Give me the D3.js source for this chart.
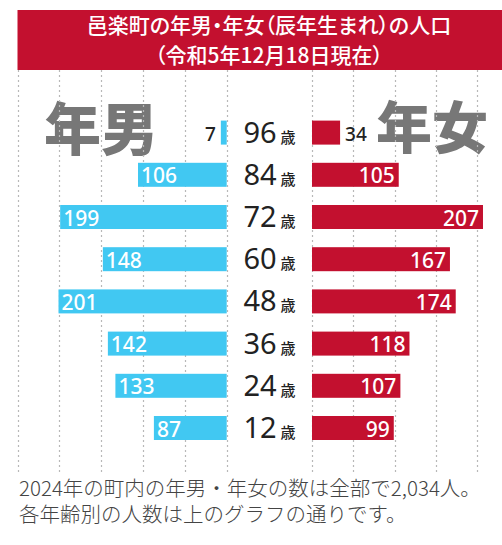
<!DOCTYPE html>
<html>
<head>
<meta charset="utf-8">
<script src="https://cdn.jsdelivr.net/npm/d3@7"></script>
<style>
  body { margin: 0; background: #fff; }
  svg { display: block; font-family: "Noto Sans CJK JP", "Noto Sans", sans-serif; }
</style>
</head>
<body>
<script>
// データ
var ages = ["96", "84", "72", "60", "48", "36", "24", "12"];
var male = [7, 106, 199, 148, 201, 142, 133, 87];
var female = [34, 105, 207, 167, 174, 118, 107, 99];
var gridTicks = [0, 50, 100, 150, 200, 250];
var titleLines = ["邑楽町の年男・年女（辰年生まれ）の人口", "（令和5年12月18日現在）"];
var noteLines = ["2024年の町内の年男・年女の数は全部で2,034人。", "各年齢別の人数は上のグラフの通りです。"];

var width = 502, height = 545;
var blue = "#41c8f2", red = "#c3102f";

var svg = d3.select("body").append("svg")
    .attr("width", width)
    .attr("height", height);

// 比例尺
var xL = d3.scaleLinear().domain([0, 250]).range([226.7, 17.5]);
var xR = d3.scaleLinear().domain([0, 250]).range([312, 518.5]);
var y = d3.scalePoint().domain(ages).range([132.6, 428]);
var barH = 24;

// タイトル帯
svg.append("rect")
    .attr("x", 17.5).attr("y", 10)
    .attr("width", width - 17.5).attr("height", 60)
    .attr("fill", red);

svg.append("text")
    .attr("text-anchor", "middle")
    .attr("fill", "#fff")
    .style("font-size", "21px")
    .style("font-weight", 500)
    .style("font-feature-settings", "'palt'")
  .selectAll("tspan")
    .data(titleLines)
  .enter().append("tspan")
    .attr("x", 269)
    .attr("y", function(d, i) { return 33 + i * 30; })
    .text(function(d) { return d; });

// 年男・年女 の大きな文字
svg.append("text")
    .attr("x", 44).attr("y", 150)
    .attr("fill", "#777")
    .style("font-size", "57px")
    .style("font-weight", 900)
    .text("年男");
svg.append("text")
    .attr("x", 376).attr("y", 148)
    .attr("fill", "#777")
    .style("font-size", "56px")
    .style("font-weight", 900)
    .text("年女");

// 点線のグリッド
function grid(scale, ticks) {
  svg.append("g").selectAll("line")
      .data(ticks)
    .enter().append("line")
      .attr("x1", function(d) { return Math.round(scale(d)) + 0.5; })
      .attr("x2", function(d) { return Math.round(scale(d)) + 0.5; })
      .attr("y1", 70).attr("y2", 472)
      .attr("stroke", "#b8b8b8")
      .attr("stroke-width", 1.2)
      .attr("stroke-dasharray", "2,3");
}
grid(xL, gridTicks);
grid(xR, gridTicks.slice(0, 5));

// 男性の棒
svg.append("g").selectAll("rect")
    .data(male)
  .enter().append("rect")
    .attr("x", function(d) { return xL(d); })
    .attr("y", function(d, i) { return y(ages[i]) - barH / 2; })
    .attr("width", function(d) { return xL(0) - xL(d); })
    .attr("height", barH)
    .attr("fill", blue);

// 女性の棒
svg.append("g").selectAll("rect")
    .data(female)
  .enter().append("rect")
    .attr("x", xR(0))
    .attr("y", function(d, i) { return y(ages[i]) - barH / 2; })
    .attr("width", function(d) { return xR(d) - xR(0); })
    .attr("height", barH)
    .attr("fill", red);

// 数値ラベル
var small = 40;
svg.append("g").selectAll("text")
    .data(male)
  .enter().append("text")
    .attr("x", function(d) { return d < small ? xL(d) - 5 : xL(d) + 3; })
    .attr("y", function(d, i) { return y(ages[i]) + 8.5; })
    .attr("text-anchor", function(d) { return d < small ? "end" : "start"; })
    .attr("fill", function(d) { return d < small ? "#222" : "#fff"; })
    .style("font-family", "'Noto Sans', sans-serif")
    .style("font-size", function(d) { return d < small ? "19px" : "21px"; })
    .style("font-weight", 500)
    .text(function(d) { return d; });

svg.append("g").selectAll("text")
    .data(female)
  .enter().append("text")
    .attr("x", function(d) { return d < small ? xR(d) + 5 : xR(d) - 4; })
    .attr("y", function(d, i) { return y(ages[i]) + 8.5; })
    .attr("text-anchor", function(d) { return d < small ? "start" : "end"; })
    .attr("fill", function(d) { return d < small ? "#222" : "#fff"; })
    .style("font-family", "'Noto Sans', sans-serif")
    .style("font-size", function(d) { return d < small ? "19px" : "21px"; })
    .style("font-weight", 500)
    .text(function(d) { return d; });

// 年齢ラベル
var ageText = svg.append("g").selectAll("text")
    .data(ages)
  .enter().append("text")
    .attr("x", 269.5)
    .attr("y", function(d) { return y(d) + 10; })
    .attr("text-anchor", "middle")
    .attr("fill", "#222");
ageText.append("tspan")
    .style("font-family", "'Noto Sans', sans-serif")
    .style("font-size", "29px")
    .text(function(d) { return d; });
ageText.append("tspan")
    .attr("dx", 4)
    .style("font-size", "15px")
    .style("font-weight", 500)
    .text("歳");

// 下の説明文
svg.append("text")
    .attr("fill", "#444")
    .style("font-size", "20.5px")
    .style("font-weight", 300)
  .selectAll("tspan")
    .data(noteLines)
  .enter().append("tspan")
    .attr("x", 19)
    .attr("y", function(d, i) { return 496 + i * 25.5; })
    .text(function(d) { return d; });
</script>
</body>
</html>
